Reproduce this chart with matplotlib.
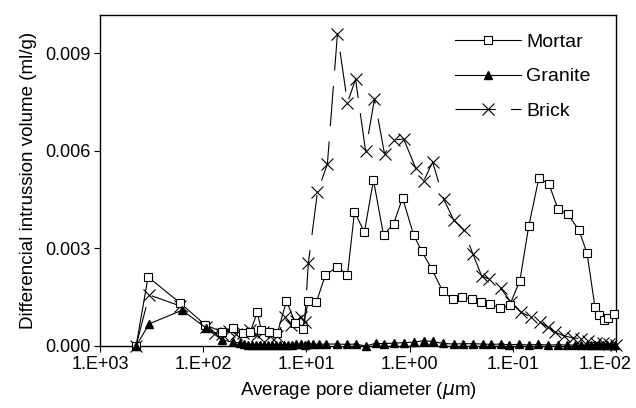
import matplotlib
matplotlib.use("Agg")
import matplotlib.pyplot as plt
import matplotlib.transforms as mtransforms
from matplotlib.ticker import FixedLocator, NullLocator

plt.rcParams['font.family'] = ['Liberation Sans', 'DejaVu Sans']
plt.rcParams['lines.scale_dashes'] = False

# Pore diameters (um) and differential intrusion volumes (ml/g)
mortar_d = [447, 342, 167, 95.7, 65.4, 51.2, 40.9, 35.0, 29.9, 27.4, 22.9, 19.1, 15.6, 12.8,
            10.9, 9.57, 8.0, 6.55, 5.00, 4.00, 3.42, 2.74, 2.24, 1.79, 1.43, 1.17, 0.914, 0.764,
            0.611, 0.479, 0.383, 0.313, 0.250, 0.205, 0.167, 0.134, 0.107, 0.0855, 0.0700,
            0.0559, 0.0447, 0.0365, 0.0292, 0.0229, 0.0191, 0.0160, 0.0146, 0.0131, 0.0120, 0.0104]
mortar_v = [0.0, 0.00212, 0.00132, 0.00065, 0.00043, 0.00055, 0.0004, 0.00043, 0.00104, 0.00049,
            0.00043, 0.0004, 0.00138, 0.00071, 0.00052, 0.00138, 0.00135, 0.00218, 0.00243,
            0.00218, 0.00412, 0.0035, 0.0051, 0.00341, 0.00375, 0.00455, 0.00341, 0.00292,
            0.00237, 0.00169, 0.00144, 0.0015, 0.00144, 0.00135, 0.00129, 0.00117, 0.00126,
            0.002, 0.00369, 0.00516, 0.00498, 0.00421, 0.00405, 0.00356, 0.00286, 0.0012,
            0.00095, 0.0008, 0.00086, 0.00098]

granite_d = [447, 334, 160, 93.5, 65.4, 51.2, 43.8, 40.0, 36.6, 33.4, 30.6, 28.0, 25.6, 23.4,
             21.4, 19.6, 17.9, 16.4, 15.0, 13.7, 12.5, 11.4, 10.4, 9.57, 8.55, 7.48, 6.40, 5.00,
             4.00, 3.34, 2.67, 2.14, 1.79, 1.43, 1.14, 0.914, 0.731, 0.598, 0.479, 0.374, 0.306,
             0.244, 0.195, 0.164, 0.131, 0.109, 0.0874, 0.0700, 0.0572, 0.0457, 0.0365, 0.0299,
             0.0250, 0.0219, 0.0191, 0.0175, 0.0160, 0.0146, 0.0134, 0.0122, 0.0112, 0.0102]
granite_v = [0.0, 0.00068, 0.0011, 0.00055, 0.00018, 0.00012, 0.00009, 0.00005, 0.00004, 0.00004,
             0.00003, 0.00003, 0.00003, 0.00002, 0.00003, 0.00002, 0.00003, 0.00003, 0.00004,
             0.00004, 0.00005, 0.00005, 0.00004, 0.00005, 0.00006, 0.00005, 0.00006, 0.00006,
             0.00005, 0.00006, 0.0, 0.00008, 0.00007, 0.00009, 0.0001, 0.00012, 0.00016, 0.00014,
             0.00008, 0.00006, 0.00007, 0.00007, 0.00006, 0.00005, 0.00006, 0.00004, 0.00005,
             0.00003, 0.00005, 0.00003, 0.00004, 0.00003, 0.00003, 0.00002, 0.00003, 0.00002,
             0.00002, 0.00002, 0.00002, 0.00002, 0.00002, 0.00002]

brick_d = [447, 334, 167, 93.5, 76.4, 65.4, 56.0, 47.9, 40.9, 35.0, 29.9, 26.1, 22.4, 19.1,
           16.0, 14.0, 12.5, 11.4, 10.4, 9.57, 7.82, 6.26, 5.00, 4.00, 3.34, 2.67, 2.19, 1.75,
           1.43, 1.14, 0.875, 0.731, 0.598, 0.468, 0.374, 0.299, 0.244, 0.200, 0.171, 0.131,
           0.1045, 0.0835, 0.0669, 0.0547, 0.0457, 0.0391, 0.0320, 0.0261, 0.0219, 0.0187,
           0.0156, 0.0134, 0.0117, 0.0100]
brick_v = [0.0, 0.00157, 0.00123, 0.00058, 0.0004, 0.00037, 0.00046, 0.00037, 0.0004, 0.00049,
           0.00034, 0.00043, 0.00031, 0.00031, 0.00089, 0.00065, 0.00077, 0.00089, 0.00074,
           0.00255, 0.00473, 0.00559, 0.0096, 0.00747, 0.0082, 0.00599, 0.00759, 0.0059,
           0.00633, 0.00636, 0.00547, 0.00507, 0.00565, 0.00452, 0.00387, 0.00356, 0.00283,
           0.00215, 0.00206, 0.00178, 0.00135, 0.00104, 0.00089, 0.00074, 0.00058, 0.00043,
           0.00031, 0.00025, 0.00022, 0.00015, 0.00009, 0.00009, 0.00006, 0.00003]

x_ticks = [1e3, 1e2, 1e1, 1e0, 1e-1, 1e-2]
x_tick_labels = ["1.E+03", "1.E+02", "1.E+01", "1.E+00", "1.E-01", "1.E-02"]
y_ticks = [0.0, 0.003, 0.006, 0.009]
y_tick_labels = ["0.000", "0.003", "0.006", "0.009"]

fig = plt.figure(figsize=(6.36, 4.08), dpi=100)
ax = fig.add_axes([100/636, 1-346/408, 516/636, 331/408])

ax.plot(mortar_d, mortar_v, color='black', lw=0.8, marker='s', ms=6, mfc='white',
        mec='black', mew=0.8, label='Mortar', clip_on=False, zorder=3)
ax.plot(granite_d, granite_v, color='black', lw=0.8, marker='^', ms=6.2, mfc='black',
        mec='black', label='Granite', clip_on=False, zorder=4)
ax.plot(brick_d, brick_v, color='black', lw=0.8, marker='x', ms=9, mew=0.8,
        dashes=(29, 11), label='Brick', clip_on=False, zorder=2)

ax.set_xscale('log')
ax.set_xlim(1e3, 1e-2)
ax.set_ylim(0, 0.01017)
ax.xaxis.set_major_locator(FixedLocator(x_ticks))
ax.xaxis.set_minor_locator(NullLocator())
ax.set_xticklabels(x_tick_labels)
ax.set_yticks(y_ticks)
ax.set_yticklabels(y_tick_labels)
ax.tick_params(direction='out', length=4, width=0.8, labelsize=13, pad=3)
for s in ax.spines.values():
    s.set_linewidth(1.0)

# shift the last x tick label left so it stays inside the figure
last = ax.get_xticklabels()[-1]
last.set_transform(last.get_transform() +
                   mtransforms.ScaledTranslation(-11/100, 0, fig.dpi_scale_trans))

ax.set_xlabel('Average pore diameter ($\\mu$m)', fontsize=13.5, labelpad=5)
ax.set_ylabel('Differencial intrussion volume (ml/g)', fontsize=13.5, labelpad=6)

leg = ax.legend(loc='upper left', bbox_to_anchor=(455/636, 1-33/408),
                bbox_transform=fig.transFigure, frameon=False, fontsize=14,
                handlelength=3.4, handletextpad=0.25, labelspacing=0.88,
                borderpad=0, borderaxespad=0)

fig.savefig('out.png', dpi=100)
